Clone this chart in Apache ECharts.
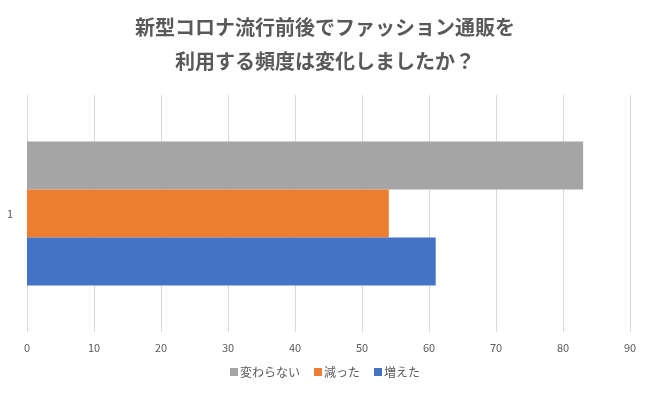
<!DOCTYPE html>
<html><head><meta charset="utf-8">
<script src="https://cdn.jsdelivr.net/npm/echarts@6/dist/echarts.min.js"></script>
<style>html,body{margin:0;padding:0;background:#fff}#c{width:650px;height:394px}</style>
</head><body><div id="c"></div>
<script>
const titleText = "新型コロナ流行前後でファッション通販を\n利用する頻度は変化しましたか？";
const categories = ["1"];
const seriesNames = ["変わらない", "減った", "増えた"];
const seriesValues = [[83], [54], [61]];
const seriesColors = ["#A5A5A5", "#ED7D31", "#4472C4"];
const xTicks = {min: 0, max: 90, interval: 10};

const chart = echarts.init(document.getElementById('c'));
const font = '"Noto Sans CJK JP", "Noto Sans", sans-serif';
chart.setOption({
  animation: false,
  title: {
    text: titleText, left: 'center', top: 5,
    textStyle: {fontFamily: font, fontSize: 20, fontWeight: 'bold', color: '#595959', lineHeight: 34}
  },
  legend: {
    data: seriesNames, bottom: 11, left: 'center',
    itemWidth: 8, itemHeight: 8, itemGap: 14, icon: 'rect',
    textStyle: {fontFamily: font, fontSize: 12, color: '#595959', padding: [0,0,0,-3]}
  },
  grid: {left: 27, right: 20, top: 95, bottom: 62},
  xAxis: {
    type: 'value', min: xTicks.min, max: xTicks.max, interval: xTicks.interval,
    axisLine: {show: false}, axisTick: {show: false},
    axisLabel: {fontFamily: font, fontSize: 11, color: '#595959', margin: 10},
    splitLine: {lineStyle: {color: '#D9D9D9'}}
  },
  yAxis: {
    type: 'category', data: categories, inverse: true,
    axisLine: {show: false}, axisTick: {show: false},
    axisLabel: {fontFamily: font, fontSize: 11, color: '#595959', margin: 14}
  },
  series: seriesNames.map((n, i) => ({
    name: n, type: 'bar', data: seriesValues[i], barWidth: 48, barGap: '0%',
    itemStyle: {color: seriesColors[i]}
  }))
});
</script></body></html>
